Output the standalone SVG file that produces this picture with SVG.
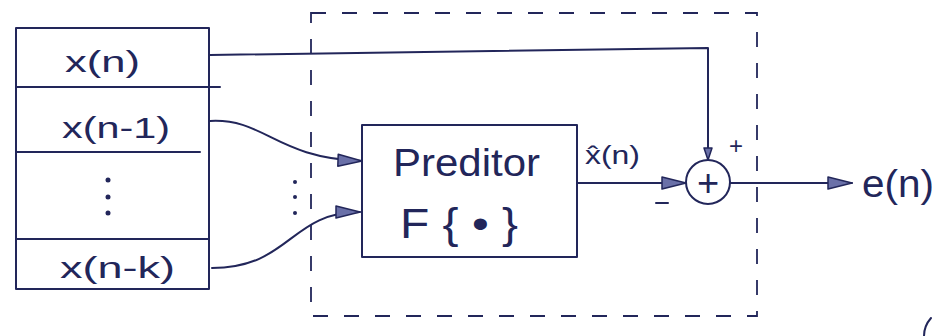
<svg xmlns="http://www.w3.org/2000/svg" width="932" height="336" viewBox="0 0 932 336">
<style>
  .ink{stroke:#22265a;stroke-width:2;fill:none;stroke-linecap:round;stroke-linejoin:round}
  .dash{stroke:#22265a;stroke-width:1.8;fill:none;stroke-dasharray:15 16}
  .t{font-family:"Liberation Sans","DejaVu Sans",sans-serif;fill:#22265a}
  .dot{fill:#22265a}
</style>
<defs>
  <marker id="ah" markerWidth="14" markerHeight="10" refX="13" refY="5" orient="auto" markerUnits="userSpaceOnUse">
    <path d="M1,1 L13,5 L1,9 Z" fill="#6a70a8" stroke="#22265a" stroke-width="1.5" stroke-linejoin="round"/>
  </marker>
  <marker id="ahl" markerWidth="26" markerHeight="14" refX="25" refY="7" orient="auto" markerUnits="userSpaceOnUse">
    <path d="M1,1 L25,7 L1,13 Z" fill="#6a70a8" stroke="#22265a" stroke-width="1.5" stroke-linejoin="round"/>
  </marker>
</defs>
<rect width="932" height="336" fill="#ffffff"/>

<g id="subsystem-boundary">
  <rect class="dash" x="311" y="13" width="446" height="303"/>
</g>

<g id="table">
  <rect class="ink" x="16" y="28" width="193" height="261"/>
  <line class="ink" x1="16" y1="87" x2="220" y2="87"/>
  <line class="ink" x1="16" y1="152" x2="200" y2="152"/>
  <line class="ink" x1="16" y1="239" x2="209" y2="239"/>
  <text class="t" x="65" y="72" font-size="30" textLength="75" lengthAdjust="spacingAndGlyphs">x(n)</text>
  <text class="t" x="62" y="138" font-size="30" textLength="108" lengthAdjust="spacingAndGlyphs">x(n-1)</text>
  <circle class="dot" cx="108" cy="180" r="2.5"/>
  <circle class="dot" cx="108" cy="197" r="2.5"/>
  <circle class="dot" cx="108" cy="213" r="2.5"/>
  <text class="t" x="60" y="278" font-size="30" textLength="115" lengthAdjust="spacingAndGlyphs">x(n-k)</text>
</g>

<g id="input-dots">
  <circle class="dot" cx="295" cy="182" r="2"/>
  <circle class="dot" cx="295" cy="197" r="2"/>
  <circle class="dot" cx="295" cy="213" r="2"/>
</g>

<g id="predictor">
  <rect class="ink" x="362" y="125" width="215" height="132"/>
  <text class="t" x="393" y="176" font-size="38" textLength="147" lengthAdjust="spacingAndGlyphs">Preditor</text>
  <text class="t" x="400" y="238" font-size="42" textLength="118" lengthAdjust="spacingAndGlyphs">F { • }</text>
</g>

<g id="summer">
  <circle class="ink" cx="708" cy="182" r="22"/>
  <text class="t" x="708" y="196" font-size="38" text-anchor="middle">+</text>
  <text class="t" x="736" y="154" font-size="24" text-anchor="middle">+</text>
  <line class="ink" x1="656" y1="203" x2="668" y2="203"/>
</g>

<g id="connectors">
  <polyline class="ink" points="210,55 708,48 708,160" marker-end="url(#ah)"/>
  <path class="ink" d="M210,121 C265,118 275,158 362,161" marker-end="url(#ahl)"/>
  <path class="ink" d="M212,268 C290,268 290,212 360,212" marker-end="url(#ahl)"/>
  <line class="ink" x1="577" y1="183" x2="686" y2="183" marker-end="url(#ahl)"/>
  <line class="ink" x1="730" y1="183" x2="852" y2="183" marker-end="url(#ahl)"/>
</g>

<g id="labels">
  <text class="t" x="585" y="164" font-size="26" textLength="55" lengthAdjust="spacingAndGlyphs">x̂(n)</text>
  <text class="t" x="862" y="197" font-size="38" textLength="72" lengthAdjust="spacingAndGlyphs">e(n)</text>
</g>

<path class="ink" d="M931,318 Q924,326 924,336"/>
</svg>
